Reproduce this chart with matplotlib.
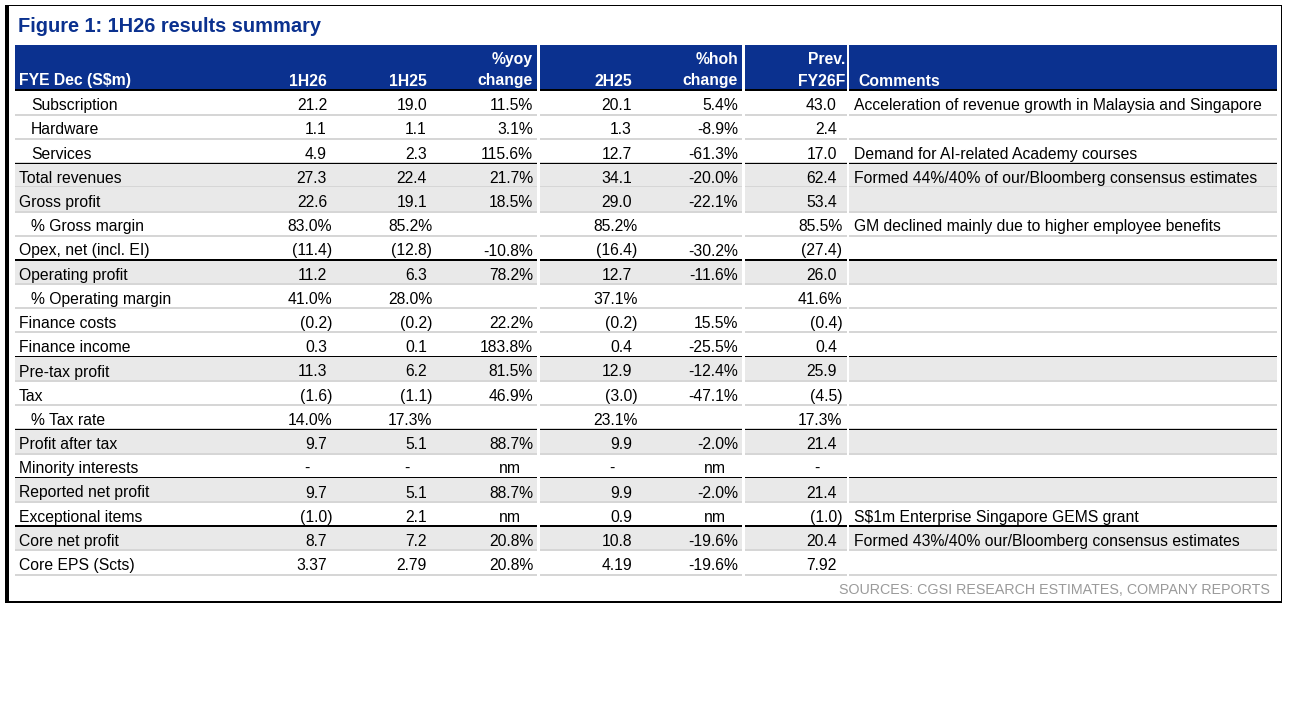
import matplotlib
matplotlib.use("Agg")
import matplotlib.pyplot as plt
from matplotlib.patches import Rectangle

plt.rcParams['font.family'] = ['Liberation Sans', 'DejaVu Sans']

# ---------------- data ----------------
title = "Figure 1: 1H26 results summary"
source = "SOURCES: CGSI RESEARCH ESTIMATES, COMPANY REPORTS"

labels = ["Subscription", "Hardware", "Services", "Total revenues", "Gross profit",
          "% Gross margin", "Opex, net (incl. EI)", "Operating profit", "% Operating margin",
          "Finance costs", "Finance income", "Pre-tax profit", "Tax", "% Tax rate",
          "Profit after tax", "Minority interests", "Reported net profit",
          "Exceptional items", "Core net profit", "Core EPS (Scts)"]
indented = [True, True, True, False, False, True, False, False, True, False, False,
            False, False, True, False, False, False, False, False, False]
shaded = [False, False, False, True, True, False, False, True, False, False, False,
          True, False, False, True, False, True, False, True, False]
black_top = [False, False, False, True, False, False, False, True, False, False, False,
             True, False, False, True, False, True, False, True, False]

h126 = ["21.2", "1.1", "4.9", "27.3", "22.6", "83.0%", "(11.4)", "11.2", "41.0%", "(0.2)",
        "0.3", "11.3", "(1.6)", "14.0%", "9.7", "-", "9.7", "(1.0)", "8.7", "3.37"]
h125 = ["19.0", "1.1", "2.3", "22.4", "19.1", "85.2%", "(12.8)", "6.3", "28.0%", "(0.2)",
        "0.1", "6.2", "(1.1)", "17.3%", "5.1", "-", "5.1", "2.1", "7.2", "2.79"]
yoy = ["11.5%", "3.1%", "115.6%", "21.7%", "18.5%", "", "-10.8%", "78.2%", "", "22.2%",
       "183.8%", "81.5%", "46.9%", "", "88.7%", "nm", "88.7%", "nm", "20.8%", "20.8%"]
h225 = ["20.1", "1.3", "12.7", "34.1", "29.0", "85.2%", "(16.4)", "12.7", "37.1%", "(0.2)",
        "0.4", "12.9", "(3.0)", "23.1%", "9.9", "-", "9.9", "0.9", "10.8", "4.19"]
hoh = ["5.4%", "-8.9%", "-61.3%", "-20.0%", "-22.1%", "", "-30.2%", "-11.6%", "", "15.5%",
       "-25.5%", "-12.4%", "-47.1%", "", "-2.0%", "nm", "-2.0%", "nm", "-19.6%", "-19.6%"]
prev = ["43.0", "2.4", "17.0", "62.4", "53.4", "85.5%", "(27.4)", "26.0", "41.6%", "(0.4)",
        "0.4", "25.9", "(4.5)", "17.3%", "21.4", "-", "21.4", "(1.0)", "20.4", "7.92"]
comments = ["Acceleration of revenue growth in Malaysia and Singapore", "",
            "Demand for AI-related Academy courses",
            "Formed 44%/40% of our/Bloomberg consensus estimates", "",
            "GM declined mainly due to higher employee benefits", "", "", "", "", "", "",
            "", "", "", "", "", "S$1m Enterprise Singapore GEMS grant",
            "Formed 43%/40% our/Bloomberg consensus estimates", ""]

header_top = ["", "", "", "%yoy", "", "%hoh", "Prev.", ""]
header_bot = ["FYE Dec (S$m)", "1H26", "1H25", "change", "2H25", "change", "FY26F", "Comments"]

# ---------------- layout ----------------
W, H = 1291, 712
NAVY = "#0B318F"
SHADE = "#E9E9E9"
SEP = "#D6D6D6"
FS = 11.3

fig = plt.figure(figsize=(W / 100, H / 100), dpi=100)
ax = fig.add_axes([0, 0, 1, 1])
ax.set_xlim(0, W)
ax.set_ylim(H, 0)
ax.axis('off')

def rect(x0, y0, x1, y1, color):
    ax.add_patch(Rectangle((x0, y0), x1 - x0, y1 - y0, facecolor=color,
                           edgecolor='none', linewidth=0))

# outer frame
rect(5, 5, 1282, 6, "black")
rect(5, 601, 1282, 602.5, "black")
rect(1281, 5, 1282.2, 602.5, "black")
rect(4.5, 5, 8.5, 602.5, "black")

ax.text(18, 32.5, title, fontsize=14.4, fontweight='bold', color=NAVY, ha='left', va='baseline')

blocks = [(14.5, 537.3), (540.2, 741.6), (745, 846.6), (849.2, 1276.6)]
HT, HB = 45, 90.5
RH = 24.2

for x0, x1 in blocks:
    rect(x0, HT, x1, HB, NAVY)
    rect(x0, HB - 1.2, x1, HB + 0.6, "black")

# header text
col_x = [19, 327, 427, 533, 632, 738, 845, 858]
col_ha = ['left', 'right', 'right', 'right', 'right', 'right', 'right', 'left']
for j in range(8):
    if header_top[j]:
        ax.text(col_x[j], 64, header_top[j], fontsize=FS, fontweight='bold', color='white',
                ha=col_ha[j], va='baseline')
    ax.text(col_x[j], 85.5, header_bot[j], fontsize=FS, fontweight='bold', color='white',
            ha=col_ha[j], va='baseline')

# number columns: (values, base right x, is percent-change column)
num_cols = [(h126, 327, False), (h125, 427, False), (yoy, 533, True),
            (h225, 632, False), (hoh, 738, True), (prev, 837, False)]

for i in range(len(labels)):
    top = HB + i * RH
    bot = top + RH
    if shaded[i]:
        for x0, x1 in blocks:
            rect(x0, top, x1, bot, SHADE)
    for x0, x1 in blocks:
        rect(x0, bot - 1.0, x1, bot + 1.0, SEP)
        if black_top[i]:
            rect(x0, top - 0.6, x1, top + 0.7, "black")
    base = top + 19.8
    ax.text(31 if indented[i] else 19, base, labels[i], fontsize=FS, color='black',
            ha='left', va='baseline')
    for vals, xr, pct_col in num_cols:
        s = vals[i]
        if not s:
            continue
        if s == "-":
            x = xr - 17
        elif s == "nm":
            x = xr - 12
        elif (s.endswith(")") or s.endswith("%")) and not pct_col:
            x = xr + 5.3
        else:
            x = xr
        ax.text(x, base, s, fontsize=FS, color='black', ha='right', va='baseline')
    if comments[i]:
        ax.text(854, base, comments[i], fontsize=FS, color='black', ha='left', va='baseline')

ax.text(1270, 594, source, fontsize=10.3, color='#9A9A9A', ha='right', va='baseline')

fig.savefig("out.png", dpi=100)
